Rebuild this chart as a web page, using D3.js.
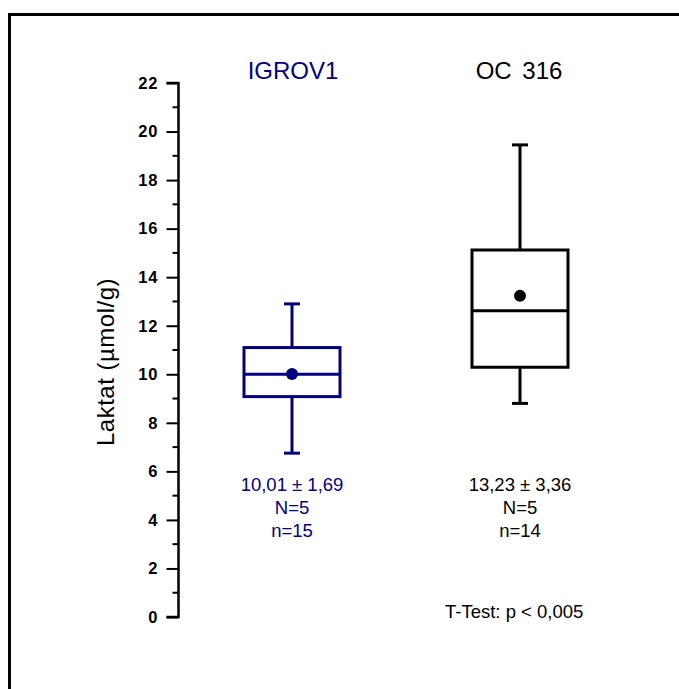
<!DOCTYPE html>
<html>
<head>
<meta charset="utf-8">
<script src="https://cdn.jsdelivr.net/npm/d3@7"></script>
<style>
  html, body { margin: 0; padding: 0; background: #fff; }
  svg { display: block; }
</style>
</head>
<body>
<script>
// Lactate concentration per cell line: box-plot statistics
const groups = ["IGROV1", "OC 316"];
const colors = ["#000080", "#000000"];
const whiskerLow = [6.75, 8.8];
const q1 = [9.08, 10.29];
const median = [10.0, 12.62];
const q3 = [11.1, 15.12];
const whiskerHigh = [12.9, 19.45];
const mean = [10.01, 13.23];
const statLines = [
  ["10,01 ± 1,69", "N=5", "n=15"],
  ["13,23 ± 3,36", "N=5", "n=14"]
];
const yTicks = [0, 2, 4, 6, 8, 10, 12, 14, 16, 18, 20, 22];
const yLabel = "Laktat (µmol/g)";
const testNote = "T-Test: p < 0,005";

const W = 679, H = 689;
const svg = d3.select("body").append("svg").attr("width", W).attr("height", H);
const font = "'Liberation Sans', Arial, Helvetica, sans-serif";

// outer frame (runs off the right and bottom edges)
svg.append("rect")
  .attr("x", 9.5).attr("y", 14.5).attr("width", 700).attr("height", 700)
  .attr("fill", "none").attr("stroke", "#000").attr("stroke-width", 3);

const axisX = 178.5;
const y = d3.scaleLinear().domain([0, 22]).range([617, 83]);
const x = d3.scalePoint().domain(groups).range([178, 634]).padding(0.5);

// y axis: major ticks with labels, minor ticks between
const yAxis = d3.axisLeft(y).tickValues(yTicks).tickSize(12).tickPadding(8)
  .tickFormat(d3.format("d"));
const gAxis = svg.append("g").attr("transform", `translate(${axisX},0)`).call(yAxis);
gAxis.select(".domain").attr("stroke-width", 2.5).attr("d", `M-12,${y(0)}H0V${y(22)}H-12`);
gAxis.selectAll(".tick line").attr("stroke-width", 2);
gAxis.selectAll(".tick text")
  .attr("font-family", font).attr("font-weight", "bold").attr("font-size", 16.5)
  .attr("letter-spacing", 1).attr("fill", "#000");
const minor = d3.range(1, 22, 2);
gAxis.selectAll(".minor").data(minor).join("line")
  .attr("class", "minor")
  .attr("x1", -6).attr("x2", 0)
  .attr("y1", d => y(d)).attr("y2", d => y(d))
  .attr("stroke", "#000").attr("stroke-width", 2);

// y axis title
svg.append("text")
  .attr("transform", `translate(114,${(y(0) + y(22)) / 2 + 12}) rotate(-90)`)
  .attr("text-anchor", "middle")
  .attr("font-family", font).attr("font-size", 24).attr("letter-spacing", 0.5)
  .text(yLabel);

// box plots
const boxW = 96, capW = 16;
groups.forEach((g, i) => {
  const cx = x(g);
  const c = colors[i];
  const gb = svg.append("g").attr("stroke", c).attr("stroke-width", 3).attr("fill", "none");
  // whiskers
  gb.append("line").attr("x1", cx).attr("x2", cx).attr("y1", y(whiskerHigh[i])).attr("y2", y(q3[i]));
  gb.append("line").attr("x1", cx).attr("x2", cx).attr("y1", y(q1[i])).attr("y2", y(whiskerLow[i]));
  gb.append("line").attr("x1", cx - capW / 2).attr("x2", cx + capW / 2)
    .attr("y1", y(whiskerHigh[i])).attr("y2", y(whiskerHigh[i]));
  gb.append("line").attr("x1", cx - capW / 2).attr("x2", cx + capW / 2)
    .attr("y1", y(whiskerLow[i])).attr("y2", y(whiskerLow[i]));
  // box
  gb.append("rect").attr("x", cx - boxW / 2).attr("y", y(q3[i]))
    .attr("width", boxW).attr("height", y(q1[i]) - y(q3[i])).attr("fill", "#fff");
  // median
  gb.append("line").attr("x1", cx - boxW / 2).attr("x2", cx + boxW / 2)
    .attr("y1", y(median[i])).attr("y2", y(median[i]));
  // mean
  svg.append("circle").attr("cx", cx).attr("cy", y(mean[i])).attr("r", 6).attr("fill", c);

  // group title
  svg.append("text").attr("x", cx - 2 * i + 1).attr("y", 79)
    .attr("text-anchor", "middle").attr("font-family", font).attr("font-size", 24)
    .attr("word-spacing", 4)
    .attr("fill", c).text(g);

  // summary statistics
  statLines[i].forEach((t, k) => {
    svg.append("text").attr("x", cx).attr("y", 491 + k * 23)
      .attr("text-anchor", "middle").attr("font-family", font).attr("font-size", 18.5)
      .attr("fill", c).text(t);
  });
});

svg.append("text").attr("x", 445).attr("y", 618)
  .attr("font-family", font).attr("font-size", 18.5).text(testNote);
</script>
</body>
</html>
